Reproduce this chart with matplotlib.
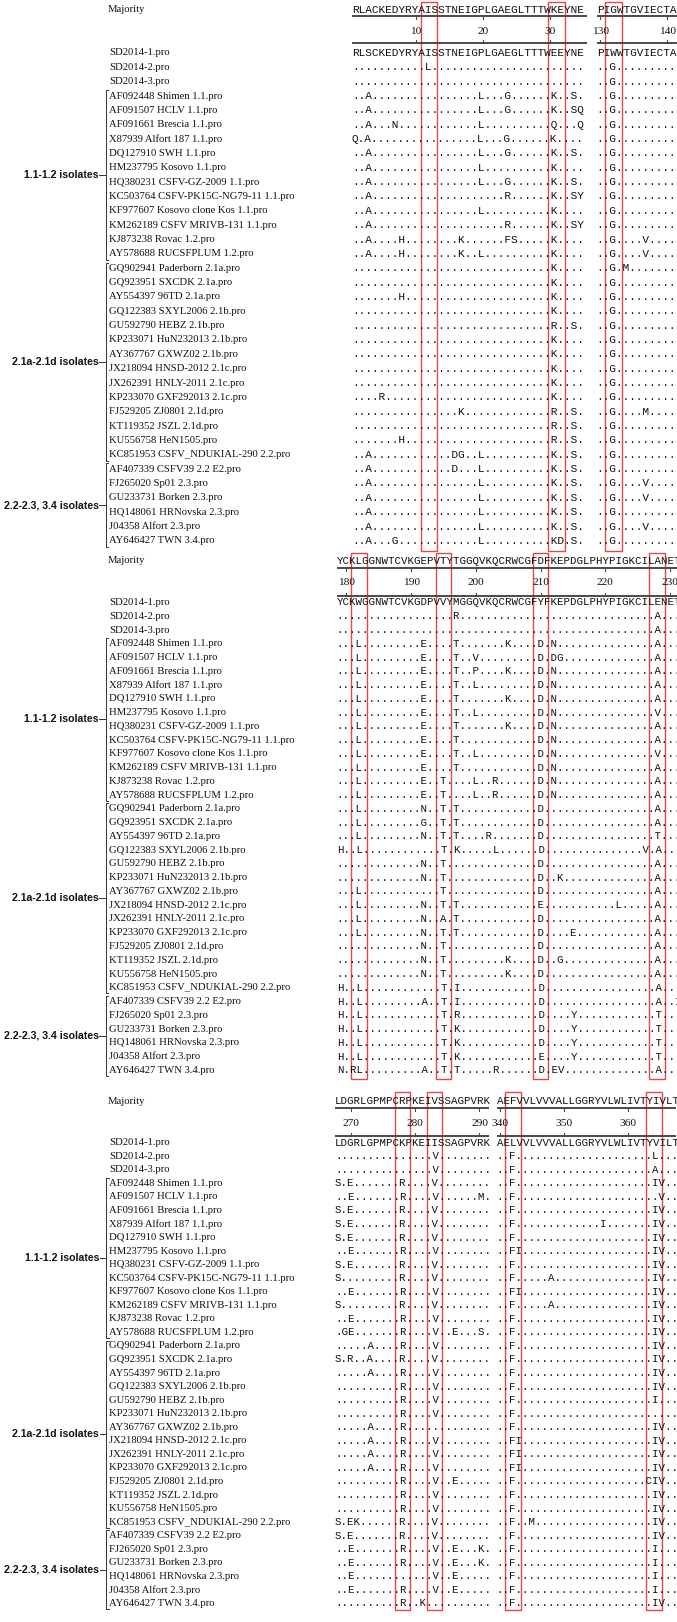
import matplotlib
matplotlib.use("Agg")
import matplotlib.pyplot as plt
from matplotlib.patches import Rectangle

W, H, DPI = 677, 1622, 100

# ── isolate names (same order in every panel) ────────────────────────────────
names = [
    "SD2014-1.pro", "SD2014-2.pro", "SD2014-3.pro",
    "AF092448 Shimen 1.1.pro", "AF091507 HCLV 1.1.pro", "AF091661 Brescia 1.1.pro",
    "X87939 Alfort 187 1.1.pro", "DQ127910 SWH 1.1.pro", "HM237795 Kosovo 1.1.pro",
    "HQ380231 CSFV-GZ-2009 1.1.pro", "KC503764 CSFV-PK15C-NG79-11 1.1.pro",
    "KF977607 Kosovo clone Kos 1.1.pro", "KM262189 CSFV MRIVB-131 1.1.pro",
    "KJ873238 Rovac 1.2.pro", "AY578688 RUCSFPLUM 1.2.pro",
    "GQ902941 Paderborn 2.1a.pro", "GQ923951 SXCDK 2.1a.pro", "AY554397 96TD 2.1a.pro",
    "GQ122383 SXYL2006 2.1b.pro", "GU592790 HEBZ 2.1b.pro", "KP233071 HuN232013 2.1b.pro",
    "AY367767 GXWZ02 2.1b.pro", "JX218094 HNSD-2012 2.1c.pro", "JX262391 HNLY-2011 2.1c.pro",
    "KP233070 GXF292013 2.1c.pro", "FJ529205 ZJ0801 2.1d.pro", "KT119352 JSZL 2.1d.pro",
    "KU556758 HeN1505.pro", "KC851953 CSFV_NDUKIAL-290 2.2.pro",
    "AF407339 CSFV39 2.2 E2.pro", "FJ265020 Sp01 2.3.pro", "GU233731 Borken 2.3.pro",
    "HQ148061 HRNovska 2.3.pro", "J04358 Alfort 2.3.pro", "AY646427 TWN 3.4.pro",
]
groups = [("1.1-1.2 isolates", 3, 14),
          ("2.1a-2.1d isolates", 15, 28),
          ("2.2-2.3, 3.4 isolates", 29, 34)]

# ── sequence blocks: first residue, majority, SD2014-1 (reference) ───────────
blk_a_start, blk_a_major, blk_a_ref = 1, "RLACKEDYRYAISSTNEIGPLGAEGLTTTWKEYNE", "RLSCKEDYRYAISSTNEIGPLGAEGLTTTWEEYNE"
blk_b_start, blk_b_major, blk_b_ref = 130, "PIGWTGVIECTA", "PIWWTGVIECTA"
blk_m_start = 179
blk_m_major = "YCKLGGNWTCVKGEPVTYTGGQVKQCRWCGFDFKEPDGLPHYPIGKCILANET"
blk_m_ref = "YCKWGGNWTCVKGDPVVYMGGQVKQCRWCGFYFKEPDGLPHYPIGKCILENET"
blk_c_start, blk_c_major, blk_c_ref = 268, "LDGRLGPMPCRPKEIVSSAGPVRK", "LDGRLGPMPCKPKEIISSAGPVRK"
blk_d_start, blk_d_major, blk_d_ref = 340, "AEFVVLVVVALLGGRYVLWLIVTYIVLT", "AELVVLVVVALLGGRYVLWLIVTYVILT"

# differences from SD2014-1 for rows 2..35 (residue-numbered)
blk_a_var = [
    "L12", "", "A3 L20 G24 K31 S34", "A3 L20 G24 K31 S34 Q35", "A3 N7 L20 Q31 Q35",
    "Q1 A3 L20 G24 K31", "A3 L20 G24 K31 S34", "A3 L20 K31", "A3 L20 G24 K31 S34",
    "A3 R24 K31 S34 Y35", "A3 L20 K31", "A3 R24 K31 S34 Y35", "A3 H8 K17 F24 S25 K31",
    "A3 H8 K17 L20 K31", "K31", "K31", "H8 K31", "K31", "R31 S34", "K31", "K31", "K31",
    "K31", "R5 K31", "K17 R31 S34", "R31 S34", "H8 R31 S34", "A3 D16 G17 L20 K31 S34",
    "A3 D16 L20 K31 S34", "A3 L20 K31 S34", "A3 L20 K31 S34", "A3 L20 K31 S34",
    "A3 L20 K31 S34", "A3 G7 L20 K31 D32 S34",
]
blk_b_var = [
    "G132", "G132", "G132", "G132", "G132", "G132", "G132", "G132", "G132", "G132",
    "G132", "G132", "G132 V137", "G132 V137", "G132 M134", "G132", "G132", "G132",
    "G132", "G132", "G132", "G132", "G132", "G132", "G132 M137", "G132", "G132",
    "G132", "G132", "G132 V137", "G132 V137", "G132", "G132 V137", "G132",
]
blk_m_var = [
    "R197 A228", "A228",
    "L182 E192 T197 K205 D210 N212 A228",
    "L182 E192 T197 V200 D210 D212 G213 A228",
    "L182 E192 T197 P200 K205 D210 N212 A228",
    "L182 E192 T197 L200 D210 N212 A228",
    "L182 E192 T197 K205 D210 N212 A228",
    "L182 E192 T197 L200 D210 N212 V228",
    "L182 E192 T197 K205 D210 N212 A228",
    "L182 E192 T197 D210 N212 A228",
    "L182 E192 T197 L200 D210 N212 V228",
    "L182 E192 T197 D210 N212 A228",
    "L182 E192 T195 L200 R203 D210 N212 A228",
    "L182 E192 T195 L200 R203 D210 N212 A228",
    "L182 N192 T195 T197 D210 A228",
    "L182 G192 T195 T197 D210 A228",
    "L182 N192 T195 T197 R202 D210 T228",
    "H179 L182 T195 K197 L203 D210 V226 A228",
    "N192 T195 D210 A228",
    "N192 T195 D210 K213 A228",
    "L182 T195 D210 A228",
    "L182 N192 T195 T197 E210 L222 A228",
    "L182 N192 A195 T197 D210 A228",
    "L182 N192 T195 T197 D210 E215 A228",
    "N192 T195 D210 A228",
    "N192 T195 K205 D210 G213 A228",
    "N192 T195 K205 D210 A228",
    "H179 L182 T195 I197 D210 A228",
    "H179 L182 A192 T195 I197 D210 A228 I231",
    "H179 L182 T195 R197 D210 Y215 T228",
    "H179 L182 T195 K197 D210 Y215 T228",
    "H179 L182 T195 K197 D210 Y215 T228",
    "H179 L182 T195 K197 E210 Y215 T228",
    "N179 R181 L182 A192 T195 T197 R203 D210 E212 V213 A228",
]
blk_c_var = [
    "V283", "V283", "S268 E270 R278 V283", "E270 R278 V283 M290", "S268 E270 R278 V283",
    "S268 E270 R278 V283", "S268 E270 R278 V283", "E270 R278 V283", "S268 E270 R278 V283",
    "S268 R278 V283", "E270 R278 V283", "S268 R278 V283", "E270 R278 V283",
    "G269 E270 R278 V283 E286 S290", "A273 R278 V283", "S268 R270 A273 R278 V283",
    "A273 R278 V283", "R278 V283", "R278 V283", "R278 V283", "A273 R278",
    "A273 R278 V283", "A273 R278 V283", "A273 R278 V283", "R278 V283 E286", "R278 V283",
    "R278 V283", "S268 E270 K271 R278 V283", "S268 E270 R278 V283",
    "E270 R278 V283 E286 K290", "E270 R278 V283 E286 K290", "E270 V283 E286",
    "E270 R278 V283 E286", "R278 K281",
]
blk_d_var = [
    "F342 L364", "F342 A364", "F342 I364 V365", "F342 V365", "F342 I364 V365",
    "F342 I356 I364 V365", "F342 I364 V365", "F342 I343 I364 V365", "F342 I364 V365",
    "F342 A348 I364 V365", "F342 I343 I364 V365", "F342 A348 I364 V365",
    "F342 I364 V365", "F342 I364 V365", "F342 I364 V365", "F342 I364 V365",
    "F342 I364 V365", "F342 I364 V365", "F342 I364", "F342", "F342 I364 V365",
    "F342 I343 I364 V365", "F342 I343 I364 V365", "F342 I343 I364 V365",
    "F342 C363 I364 V365", "F342 I364 V365", "F342 I364 V365", "F342 M345 I364 V365",
    "F342 I364 V365", "F342 I364", "F342 I364", "F342 I364", "F342 I364", "F342 I364 V365",
]

# highlighted residues (red boxes)
blk_a_boxes, blk_b_boxes = [12, 31], [132]
blk_m_boxes = [182, 195, 210, 228]
blk_c_boxes, blk_d_boxes = [278, 283], [342, 364]


def build_row(ref, start, var):
    row = ["."] * len(ref)
    for tok in var.split():
        row[int(tok[1:]) - start] = tok[0]
    return "".join(row)


# ── layout (pixels) ──────────────────────────────────────────────────────────
panels = [
    dict(x0=352.0, cw=6.70, row0=53.0, rh=14.35, maj=10.0, rule1=16.0, lab=31.5,
         rule2=43.0, box_top=2.0, box_bot=551.0,
         blocks=[(0.0, blk_a_start, blk_a_major, blk_a_ref, blk_a_var, blk_a_boxes),
                 (36.52, blk_b_start, blk_b_major, blk_b_ref, blk_b_var, blk_b_boxes)]),
    dict(x0=336.7, cw=6.47, row0=602.5, rh=13.76, maj=561.0, rule1=568.0, lab=583.0,
         rule2=596.0, box_top=552.7, box_bot=1079.3,
         blocks=[(0.0, blk_m_start, blk_m_major, blk_m_ref, blk_m_var, blk_m_boxes)]),
    dict(x0=335.0, cw=6.42, row0=1142.7, rh=13.55, maj=1101.0, rule1=1108.0, lab=1123.3,
         rule2=1136.0, box_top=1091.7, box_bot=1610.0,
         blocks=[(0.0, blk_c_start, blk_c_major, blk_c_ref, blk_c_var, blk_c_boxes),
                 (25.19, blk_d_start, blk_d_major, blk_d_ref, blk_d_var, blk_d_boxes)]),
]

SEQ_FONT = "Liberation Mono"
NAME_FONT = "Liberation Serif"
BOX_RED = "#e8302e"
RULE = "#4a4a4a"

fig = plt.figure(figsize=(W / DPI, H / DPI), dpi=DPI)
fig.patch.set_facecolor("white")

for p in panels:
    ax = fig.add_axes([0, 0, 1, 1])
    ax.set_xlim(-p["x0"] / p["cw"], (W - p["x0"]) / p["cw"])
    ax.set_ylim((H - p["row0"]) / p["rh"], -p["row0"] / p["rh"])
    ax.axis("off")
    ax.patch.set_alpha(0)

    col = lambda px: (px - p["x0"]) / p["cw"]
    row = lambda py: (py - p["row0"]) / p["rh"]
    seq_pt = p["cw"] / 0.6 * 72 / DPI
    tick_len = 3.0 / p["rh"]

    # sequence blocks
    for c0, start, major, ref, var, boxes in p["blocks"]:
        n = len(major)
        ax.text(c0, row(p["maj"]), major, family=SEQ_FONT, fontsize=seq_pt,
                ha="left", va="center", color="#111111")
        for yy in (row(p["rule1"]), row(p["rule2"])):
            ax.plot([c0, c0 + n], [yy, yy], color=RULE, lw=1.4, solid_capstyle="butt")
        for r in range(start, start + n):
            if r % 10 == 0:
                c = c0 + r - start + 0.5
                ax.plot([c, c], [row(p["rule1"]), row(p["rule1"]) + tick_len], color=RULE, lw=0.8)
                ax.plot([c, c], [row(p["rule2"]), row(p["rule2"]) - tick_len], color=RULE, lw=0.8)
                ax.text(c, row(p["lab"]), str(r), family=NAME_FONT, fontsize=8.2,
                        ha="center", va="center", color="#111111")
        seq_rows = [ref] + [build_row(ref, start, v) for v in var]
        for i, s in enumerate(seq_rows):
            ax.text(c0, i, s, family=SEQ_FONT, fontsize=seq_pt,
                    ha="left", va="center", color="#111111")
        for r in boxes:
            c = c0 + r - start + 0.5
            y1, y2 = row(p["box_top"]), row(p["box_bot"])
            ax.add_patch(Rectangle((c - 1.22, y1), 2.44, y2 - y1, fill=False,
                                   edgecolor=BOX_RED, lw=1.0, alpha=0.9))

    # names, groups
    ax.text(col(108), row(p["maj"]), "Majority", family=NAME_FONT, fontsize=7.7,
            ha="left", va="center", color="#111111")
    for i, nm in enumerate(names):
        ax.text(col(109), i, nm, family=NAME_FONT, fontsize=7.7,
                ha="left", va="center", color="#111111")
    for label, r1, r2 in groups:
        mid = (r1 + r2) / 2
        ax.text(col(99), mid, label, family="Liberation Sans", fontweight="bold",
                fontsize=7.6, ha="right", va="center", color="#111111")
        ax.plot([col(99.5), col(106)], [mid, mid], color="#333333", lw=0.7)
        ax.plot([col(108.5), col(106), col(106), col(108.5)],
                [r1 - 0.4, r1 - 0.4, r2 + 0.4, r2 + 0.4], color="#333333", lw=0.7)

fig.savefig("out.png", dpi=DPI)
